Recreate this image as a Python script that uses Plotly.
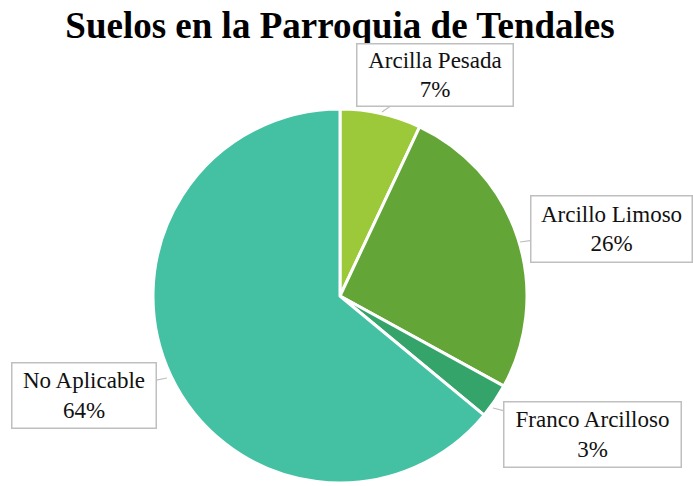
import plotly.graph_objects as go

labels = ["Arcilla Pesada", "Arcillo Limoso", "Franco Arcilloso", "No Aplicable"]
values = [7, 26, 3, 64]
pct_text = ["7%", "26%", "3%", "64%"]
colors = ["#9bc93a", "#63a537", "#35a46a", "#44c1a3"]

W, H = 693, 486
cx, cy, r = 340, 296, 187

fig = go.Figure(go.Pie(
    labels=labels, values=values, sort=False, direction="clockwise", rotation=0,
    marker=dict(colors=colors, line=dict(color="white", width=3)),
    textinfo="none", hoverinfo="label+percent", showlegend=False,
    domain=dict(x=[(cx - r) / W, (cx + r) / W], y=[1 - (cy + r) / H, 1 - (cy - r) / H]),
))

# callout label placement: (tip x, tip y, box center x, box center y, box w, box h) in pixels
callouts = [
    (382, 112, 435, 75, 157, 62),
    (520, 242, 611, 229, 162, 66),
    (493, 408, 592, 434, 178, 65),
    (167, 378, 84, 395, 145, 65),
]
for lab, pt, (tx, ty, bx, by, bw, bh) in zip(labels, pct_text, callouts):
    fig.add_annotation(
        x=tx / W, y=1 - ty / H, xref="paper", yref="paper",
        ax=bx - tx, ay=by - ty, axref="pixel", ayref="pixel",
        text=f"{lab}<br>{pt}", showarrow=True, arrowhead=0, arrowwidth=1.2,
        arrowcolor="#bfbfbf", standoff=0,
        font=dict(family="Liberation Serif", size=23, color="#111111"),
        bgcolor="white", bordercolor="#bfbfbf", borderwidth=1.5, borderpad=0,
        width=bw - 2, height=bh - 1, align="center", valign="middle",
    )

fig.update_layout(
    width=W, height=H, margin=dict(l=0, r=0, t=0, b=0),
    paper_bgcolor="white", plot_bgcolor="white",
    title=dict(text="<b>Suelos en la Parroquia de Tendales</b>", x=340 / W, y=1 - 25 / H,
               xanchor="center", yanchor="middle",
               font=dict(family="Liberation Serif", size=37, color="black")),
)

fig.write_html("out.html", config={"displayModeBar": False},
               post_script="document.body.style.margin='0';")
